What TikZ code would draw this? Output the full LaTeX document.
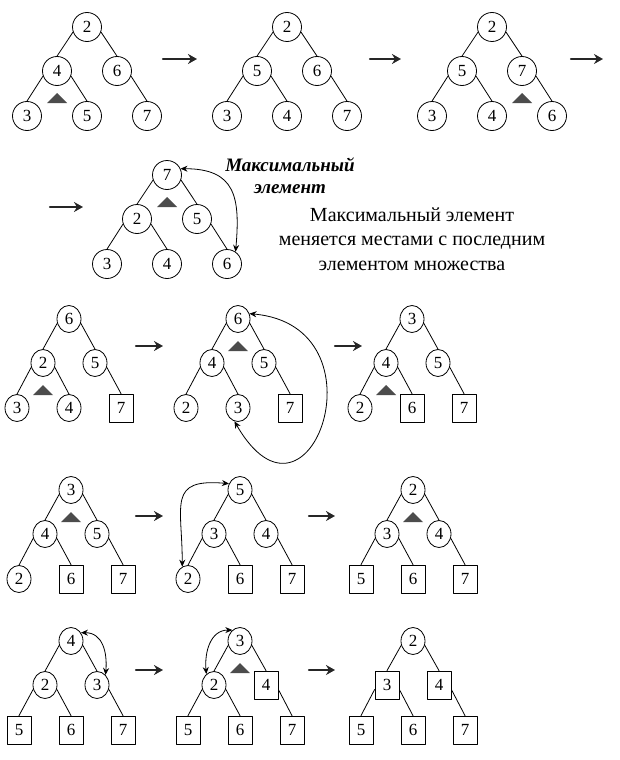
\documentclass[tikz,border=0pt]{standalone}
\usepackage{fontspec}
\setmainfont{Liberation Serif}
\usetikzlibrary{arrows.meta,shapes.geometric}

% one heap drawn as a tree: name, root position, six nodes
\newcommand{\heaptree}[8]{%
  \begin{scope}[shift={(#2)}]
    \node (#1a) at (0,0) [#3];
    \node (#1b) at (-\tdx,-44) [#4];
    \node (#1c) at (\tdx,-44) [#5];
    \node (#1d) at (-2*\tdx,-89) [#6];
    \node (#1e) at (0,-89) [#7];
    \node (#1f) at (2*\tdx,-89) [#8];
    \draw[link] (#1a.200) -- (#1b.north);
    \draw[link] (#1a.-20) -- (#1c.north);
    \draw[link] (#1b.200) -- (#1d.north);
    \draw[link] (#1b.-20) -- (#1e.north);
    \draw[link] (#1c.-20) -- (#1f.north);
  \end{scope}}

% dark triangle under a node
\newcommand{\ptr}[1]{%
  \fill[black!70] ([shift={(-10,-32)}]#1.center) -- ++(20,0) -- ++(-10,10) -- cycle;}

\begin{document}
\begin{tikzpicture}[x=1pt,y=1pt,line cap=round,line join=round,
  link/.style={line width=0.8pt},
  circ/.style={draw,line width=0.8pt,ellipse,inner sep=0pt,
    minimum width=\nw,minimum height=\nh,
    font=\fontsize{17}{17}\selectfont,node contents={#1}},
  sqr/.style={draw,line width=0.8pt,rectangle,inner sep=0pt,
    minimum width=24pt,minimum height=28pt,
    font=\fontsize{17}{17}\selectfont,node contents={#1}},
  flow/.style={line width=2.4pt,black!85,-{Stealth[length=9pt,width=10pt]}},
  xchg/.style={line width=0.8pt,{Stealth[length=7pt,width=6pt]}-{Stealth[length=7pt,width=6pt]}}]
  \useasboundingbox (0,0) rectangle (619,-760);

  % Row 1
  \def\tdx{30}\def\nw{29pt}\def\nh{29pt}
  \heaptree{t1}{87,-27}{circ=2}{circ=4}{circ=6}{circ=3}{circ=5}{circ=7}
  \heaptree{t2}{287,-27}{circ=2}{circ=5}{circ=6}{circ=3}{circ=4}{circ=7}
  \heaptree{t3}{492,-27}{circ=2}{circ=5}{circ=7}{circ=3}{circ=4}{circ=6}
  \ptr{t1b}
  \ptr{t3c}

  % Row 2
  \heaptree{t4}{167,-175}{circ=7}{circ=2}{circ=5}{circ=3}{circ=4}{circ=6}
  \ptr{t4a}
  \draw[xchg] (t4a.25) to[out=0,in=85,distance=55] (t4f.55);
  \node[font=\fontsize{19}{22}\selectfont\bfseries\itshape,align=center] (maxlbl)
    at (290,-176) {Максимальный\\элемент};
  \node[font=\fontsize{20}{24.5}\selectfont,align=center] (note)
    at (412,-239) {Максимальный элемент\\меняется местами с последним\\элементом множества};

  % Rows 3-5
  \def\tdx{26}\def\nw{24pt}\def\nh{27pt}
  \heaptree{t5}{69,-319}{circ=6}{circ=2}{circ=5}{circ=3}{circ=4}{sqr=7}
  \heaptree{t6}{238,-319}{circ=6}{circ=4}{circ=5}{circ=2}{circ=3}{sqr=7}
  \heaptree{t7}{412,-319}{circ=3}{circ=4}{circ=5}{circ=2}{sqr=6}{sqr=7}
  \ptr{t5b}
  \ptr{t6a}
  \ptr{t7b}
  \draw[xchg] (t6a.25) to[out=-5,in=-60,out distance=140,in distance=150] (t6e.-105);

  \heaptree{t8}{71,-490}{circ=3}{circ=4}{circ=5}{circ=2}{sqr=6}{sqr=7}
  \heaptree{t9}{240,-490}{circ=5}{circ=3}{circ=4}{circ=2}{sqr=6}{sqr=7}
  \heaptree{t10}{413,-490}{circ=2}{circ=3}{circ=4}{sqr=5}{sqr=6}{sqr=7}
  \ptr{t8a}
  \ptr{t10a}
  \draw[xchg] (t9a.150) to[out=175,in=90,distance=62] (t9d.115);

  \heaptree{t11}{71,-641}{circ=4}{circ=2}{circ=3}{sqr=5}{sqr=6}{sqr=7}
  \heaptree{t12}{240,-641}{circ=3}{circ=2}{sqr=4}{sqr=5}{sqr=6}{sqr=7}
  \heaptree{t13}{413,-641}{circ=2}{sqr=3}{sqr=4}{sqr=5}{sqr=6}{sqr=7}
  \ptr{t12a}
  \draw[xchg] (t11a.40) to[out=0,in=85,distance=22] (t11c.50);
  \draw[xchg] (t12a.125) to[out=180,in=95,distance=22] (t12b.125);

  % Arrows between steps
  \foreach \n/\x/\y/\l in {1/163/59/34,2/370/59/31,3/571/59/32,4/50/207/33,
      5/136/346/27,6/335/346/27,7/136/516/27,8/309/516/26,9/136/670/27,10/309/670/26}{
    \coordinate (s\n) at (\x,-\y);
    \coordinate (e\n) at (\x+\l,-\y);
    \draw[flow] (s\n) -- (e\n);
  }
\end{tikzpicture}
\end{document}
